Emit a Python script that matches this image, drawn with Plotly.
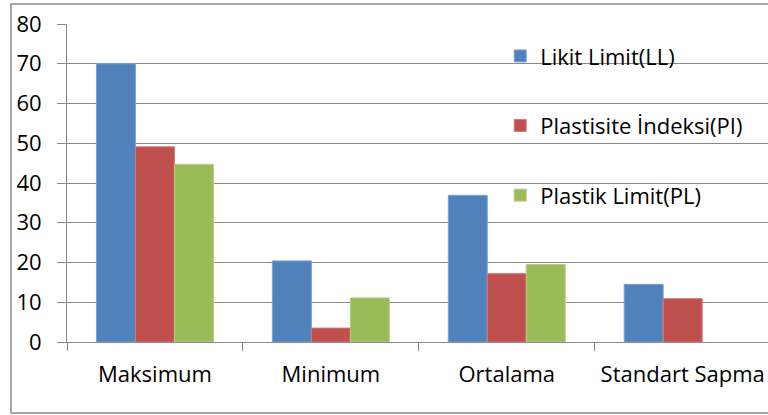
import plotly.graph_objects as go

categories = ["Maksimum", "Minimum", "Ortalama", "Standart Sapma"]
likit_limit = [70.0, 20.4, 36.9, 14.5]
plastisite_indeksi = [49.1, 3.5, 17.2, 10.9]
plastik_limit = [44.7, 11.1, 19.5, None]

series = [
    ("Likit Limit(LL)", likit_limit, "#4F81BD", "#7FA3D3"),
    ("Plastisite İndeksi(PI)", plastisite_indeksi, "#C0504D", "#D27A78"),
    ("Plastik Limit(PL)", plastik_limit, "#9BBB59", "#B6CE86"),
]

FONT = "Open Sans"
FSIZE = 22
GRID = "#8A8A8A"
BORDER = "#8C8C8C"

fig = go.Figure()
for i, (name, vals, color, edge) in enumerate(series):
    fig.add_trace(go.Bar(
        x=categories, y=vals, name=name, legendgroup=f"g{i}",
        marker=dict(color=color, line=dict(color=edge, width=1)),
    ))

# outer chart frame as an open path: the right edge lies past the page
fx0 = (11 - 67) / 701
fy0 = (342 - 413) / 318
fy1 = (342 - 4) / 318
frame_path = f"M 1.0 {fy1:.4f} L {fx0:.4f} {fy1:.4f} L {fx0:.4f} {fy0:.4f} L 1.0 {fy0:.4f}"

fig.update_layout(
    width=768, height=415,
    margin=dict(l=67, r=0, t=24, b=73),
    paper_bgcolor="white", plot_bgcolor="white",
    barmode="group", bargap=0.335, bargroupgap=0,
    font=dict(family=FONT, size=FSIZE, color="black"),
    showlegend=True,
    legend=dict(
        x=0.618, xanchor="left", y=0.965, yanchor="top",
        bgcolor="rgba(0,0,0,0)", tracegroupgap=38,
        font=dict(family=FONT, size=FSIZE, color="black"),
    ),
    xaxis=dict(
        type="category", range=[-0.5, 3.485],
        showline=True, linecolor=GRID, linewidth=1,
        ticks="outside", ticklen=8, tickcolor=GRID, tickson="boundaries",
        showgrid=False, ticklabelstandoff=13,
        tickfont=dict(family=FONT, size=FSIZE, color="black"),
    ),
    yaxis=dict(
        range=[0, 80], dtick=10, tick0=0,
        showline=True, linecolor=GRID, linewidth=1,
        ticks="outside", ticklen=9, tickcolor=GRID,
        showgrid=True, gridcolor=GRID, gridwidth=1,
        zeroline=False, ticklabelstandoff=11,
        tickfont=dict(family=FONT, size=FSIZE, color="black"),
    ),
    shapes=[dict(type="path", xref="paper", yref="paper", path=frame_path,
                 line=dict(color=BORDER, width=1.5), layer="below")],
)

fig.write_html("out.html")
